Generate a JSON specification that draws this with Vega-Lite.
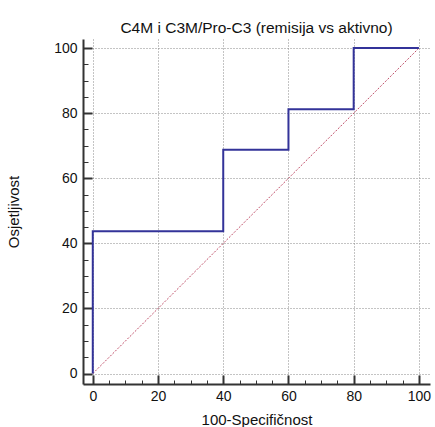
{
  "$schema": "https://vega.github.io/schema/vega-lite/v6.json",
  "width": 347,
  "height": 345,
  "autosize": {"type": "none"},
  "padding": {"left": 83, "top": 39, "right": 5, "bottom": 43},
  "background": "white",
  "config": {
    "view": {"stroke": null},
    "font": "Liberation Sans"
  },
  "title": {
    "text": "C4M i C3M/Pro-C3 (remisija vs aktivno)",
    "fontSize": 15.5,
    "fontWeight": "normal",
    "font": "Liberation Sans",
    "color": "#111",
    "offset": 3,
    "anchor": "middle"
  },
  "datasets": {
    "roc": [
      {"order": 0, "fpr": 0, "tpr": 0},
      {"order": 1, "fpr": 0, "tpr": 43.75},
      {"order": 2, "fpr": 40, "tpr": 43.75},
      {"order": 3, "fpr": 40, "tpr": 68.75},
      {"order": 4, "fpr": 60, "tpr": 68.75},
      {"order": 5, "fpr": 60, "tpr": 81.25},
      {"order": 6, "fpr": 80, "tpr": 81.25},
      {"order": 7, "fpr": 80, "tpr": 100},
      {"order": 8, "fpr": 100, "tpr": 100}
    ],
    "diag": [
      {"order": 0, "fpr": 0, "tpr": 0},
      {"order": 1, "fpr": 100, "tpr": 100}
    ]
  },
  "resolve": {"axis": {"x": "independent", "y": "independent"}},
  "layer": [
    {
      "data": {"name": "diag"},
      "mark": {"type": "line", "color": "#c0506a", "strokeWidth": 1, "strokeDash": [2, 1.5]},
      "encoding": {
        "x": {
          "field": "fpr", "type": "quantitative",
          "scale": {"domain": [-3, 103.4], "nice": false, "zero": false},
          "axis": {
            "orient": "bottom",
            "title": "100-Specifičnost",
            "titleFont": "Liberation Sans", "titleFontSize": 15, "titleFontWeight": "normal", "titleColor": "#111",
            "titlePadding": 9,
            "values": [0, 20, 40, 60, 80, 100],
            "labelFont": "Liberation Sans", "labelFontSize": 14, "labelColor": "#111",
            "labelPadding": 14,
            "labelFlush": false,
            "domainColor": "#333", "domainWidth": 2,
            "tickColor": "#333",
            "tickWidth": 2,
            "tickSize": -9,
            "grid": true,
            "gridColor": "#888",
            "gridDash": [1, 2],
            "gridWidth": 1
          }
        },
        "y": {
          "field": "tpr", "type": "quantitative",
          "scale": {"domain": [-3.2, 102.8], "nice": false, "zero": false},
          "axis": {
            "orient": "left",
            "title": "Osjetljivost",
            "titleFont": "Liberation Sans", "titleFontSize": 15, "titleFontWeight": "normal", "titleColor": "#111",
            "titlePadding": 32,
            "values": [0, 20, 40, 60, 80, 100],
            "labelFont": "Liberation Sans", "labelFontSize": 14, "labelColor": "#111",
            "labelPadding": 15,
            "labelFlush": false,
            "domainColor": "#333", "domainWidth": 2,
            "tickColor": "#333",
            "tickWidth": 2,
            "tickSize": -9,
            "grid": true,
            "gridColor": "#888",
            "gridDash": [1, 2],
            "gridWidth": 1
          }
        },
        "order": {"field": "order"}
      }
    },
    {
      "data": {"name": "roc"},
      "mark": {"type": "line", "color": "#333399", "strokeWidth": 2},
      "encoding": {
        "x": {
          "field": "fpr", "type": "quantitative",
          "axis": {
            "orient": "bottom",
            "title": null,
            "values": [5,10,15,25,30,35,45,50,55,65,70,75,85,90,95],
            "labels": false,
            "domain": false,
            "grid": false,
            "tickColor": "#333",
            "tickWidth": 1,
            "tickSize": -4
          }
        },
        "y": {
          "field": "tpr", "type": "quantitative",
          "axis": {
            "orient": "left",
            "title": null,
            "values": [5,10,15,25,30,35,45,50,55,65,70,75,85,90,95],
            "labels": false,
            "domain": false,
            "grid": false,
            "tickColor": "#333",
            "tickWidth": 1,
            "tickSize": -5
          }
        },
        "order": {"field": "order"}
      }
    }
  ]
}
